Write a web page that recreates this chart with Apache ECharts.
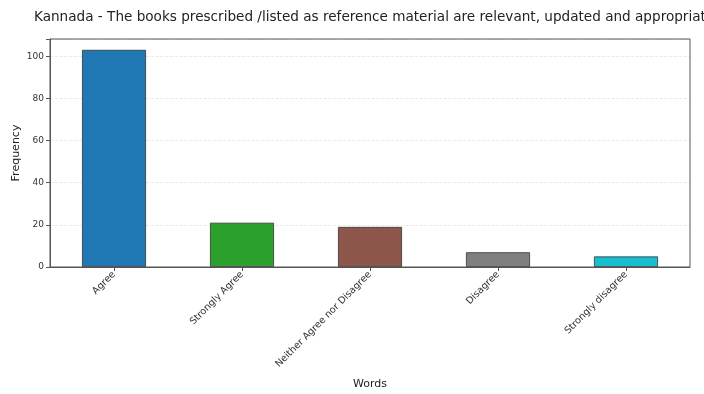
<!DOCTYPE html>
<html>
<head>
<meta charset="utf-8">
<script src="https://cdn.jsdelivr.net/npm/echarts@6/dist/echarts.min.js"></script>
<style>html,body{margin:0;padding:0;background:#fff;}#c{width:704px;height:394px;}</style>
</head>
<body>
<div id="c"></div>
<script>
const categories = ["Agree", "Strongly Agree", "Neither Agree nor Disagree", "Disagree", "Strongly disagree"];
const values = [103, 21, 19, 7, 5];
const colors = ["#1f77b4", "#2ca02c", "#8c564b", "#7f7f7f", "#17becf"];
const titleText = "Kannada - The books prescribed /listed as reference material are relevant, updated and appropriate";

const chart = echarts.init(document.getElementById('c'), null, {renderer: 'canvas'});
const font = 'DejaVu Sans';
chart.setOption({
  animation: false,
  title: {
    text: titleText,
    left: 29, top: 5,
    textStyle: {fontFamily: font, fontSize: 13.6, fontWeight: 'normal', color: '#222'}
  },
  grid: {
    left: 50, right: 14, top: 39, bottom: 127,
    outerBoundsMode: 'none', containLabel: false,
    show: true, borderColor: '#555', borderWidth: 1, backgroundColor: 'transparent', z: 5
  },
  xAxis: {
    type: 'category',
    data: categories,
    name: 'Words',
    nameLocation: 'middle',
    nameGap: 112,
    nameMoveOverlap: false,
    nameTextStyle: {fontFamily: font, fontSize: 11, color: '#222'},
    axisLine: {show: true, lineStyle: {color: '#555'}},
    axisTick: {show: true, alignWithLabel: true, length: 4, lineStyle: {color: '#555'}},
    axisLabel: {rotate: 45, fontFamily: font, fontSize: 9.6, color: '#333', margin: 6, interval: 0},
    splitLine: {show: false}
  },
  yAxis: {
    type: 'value',
    min: 0, max: 108.15, interval: 20,
    name: 'Frequency',
    nameLocation: 'middle',
    nameGap: 28,
    nameMoveOverlap: false,
    nameTextStyle: {fontFamily: font, fontSize: 11, color: '#222'},
    axisLine: {show: true, lineStyle: {color: '#555'}},
    axisTick: {show: true, length: 4, lineStyle: {color: '#555'}},
    axisLabel: {fontFamily: font, fontSize: 9, color: '#333', margin: 6,
      formatter: v => (v % 20 === 0 ? String(v) : '')},
    splitLine: {show: true, lineStyle: {color: '#e4e4e4', type: 'dashed', width: 0.8}}
  },
  series: [{
    type: 'bar',
    barWidth: '50%',
    data: values.map((v, i) => ({value: v, itemStyle: {color: colors[i], borderColor: '#333', borderWidth: 0.8}}))
  }]
});
</script>
</body>
</html>
